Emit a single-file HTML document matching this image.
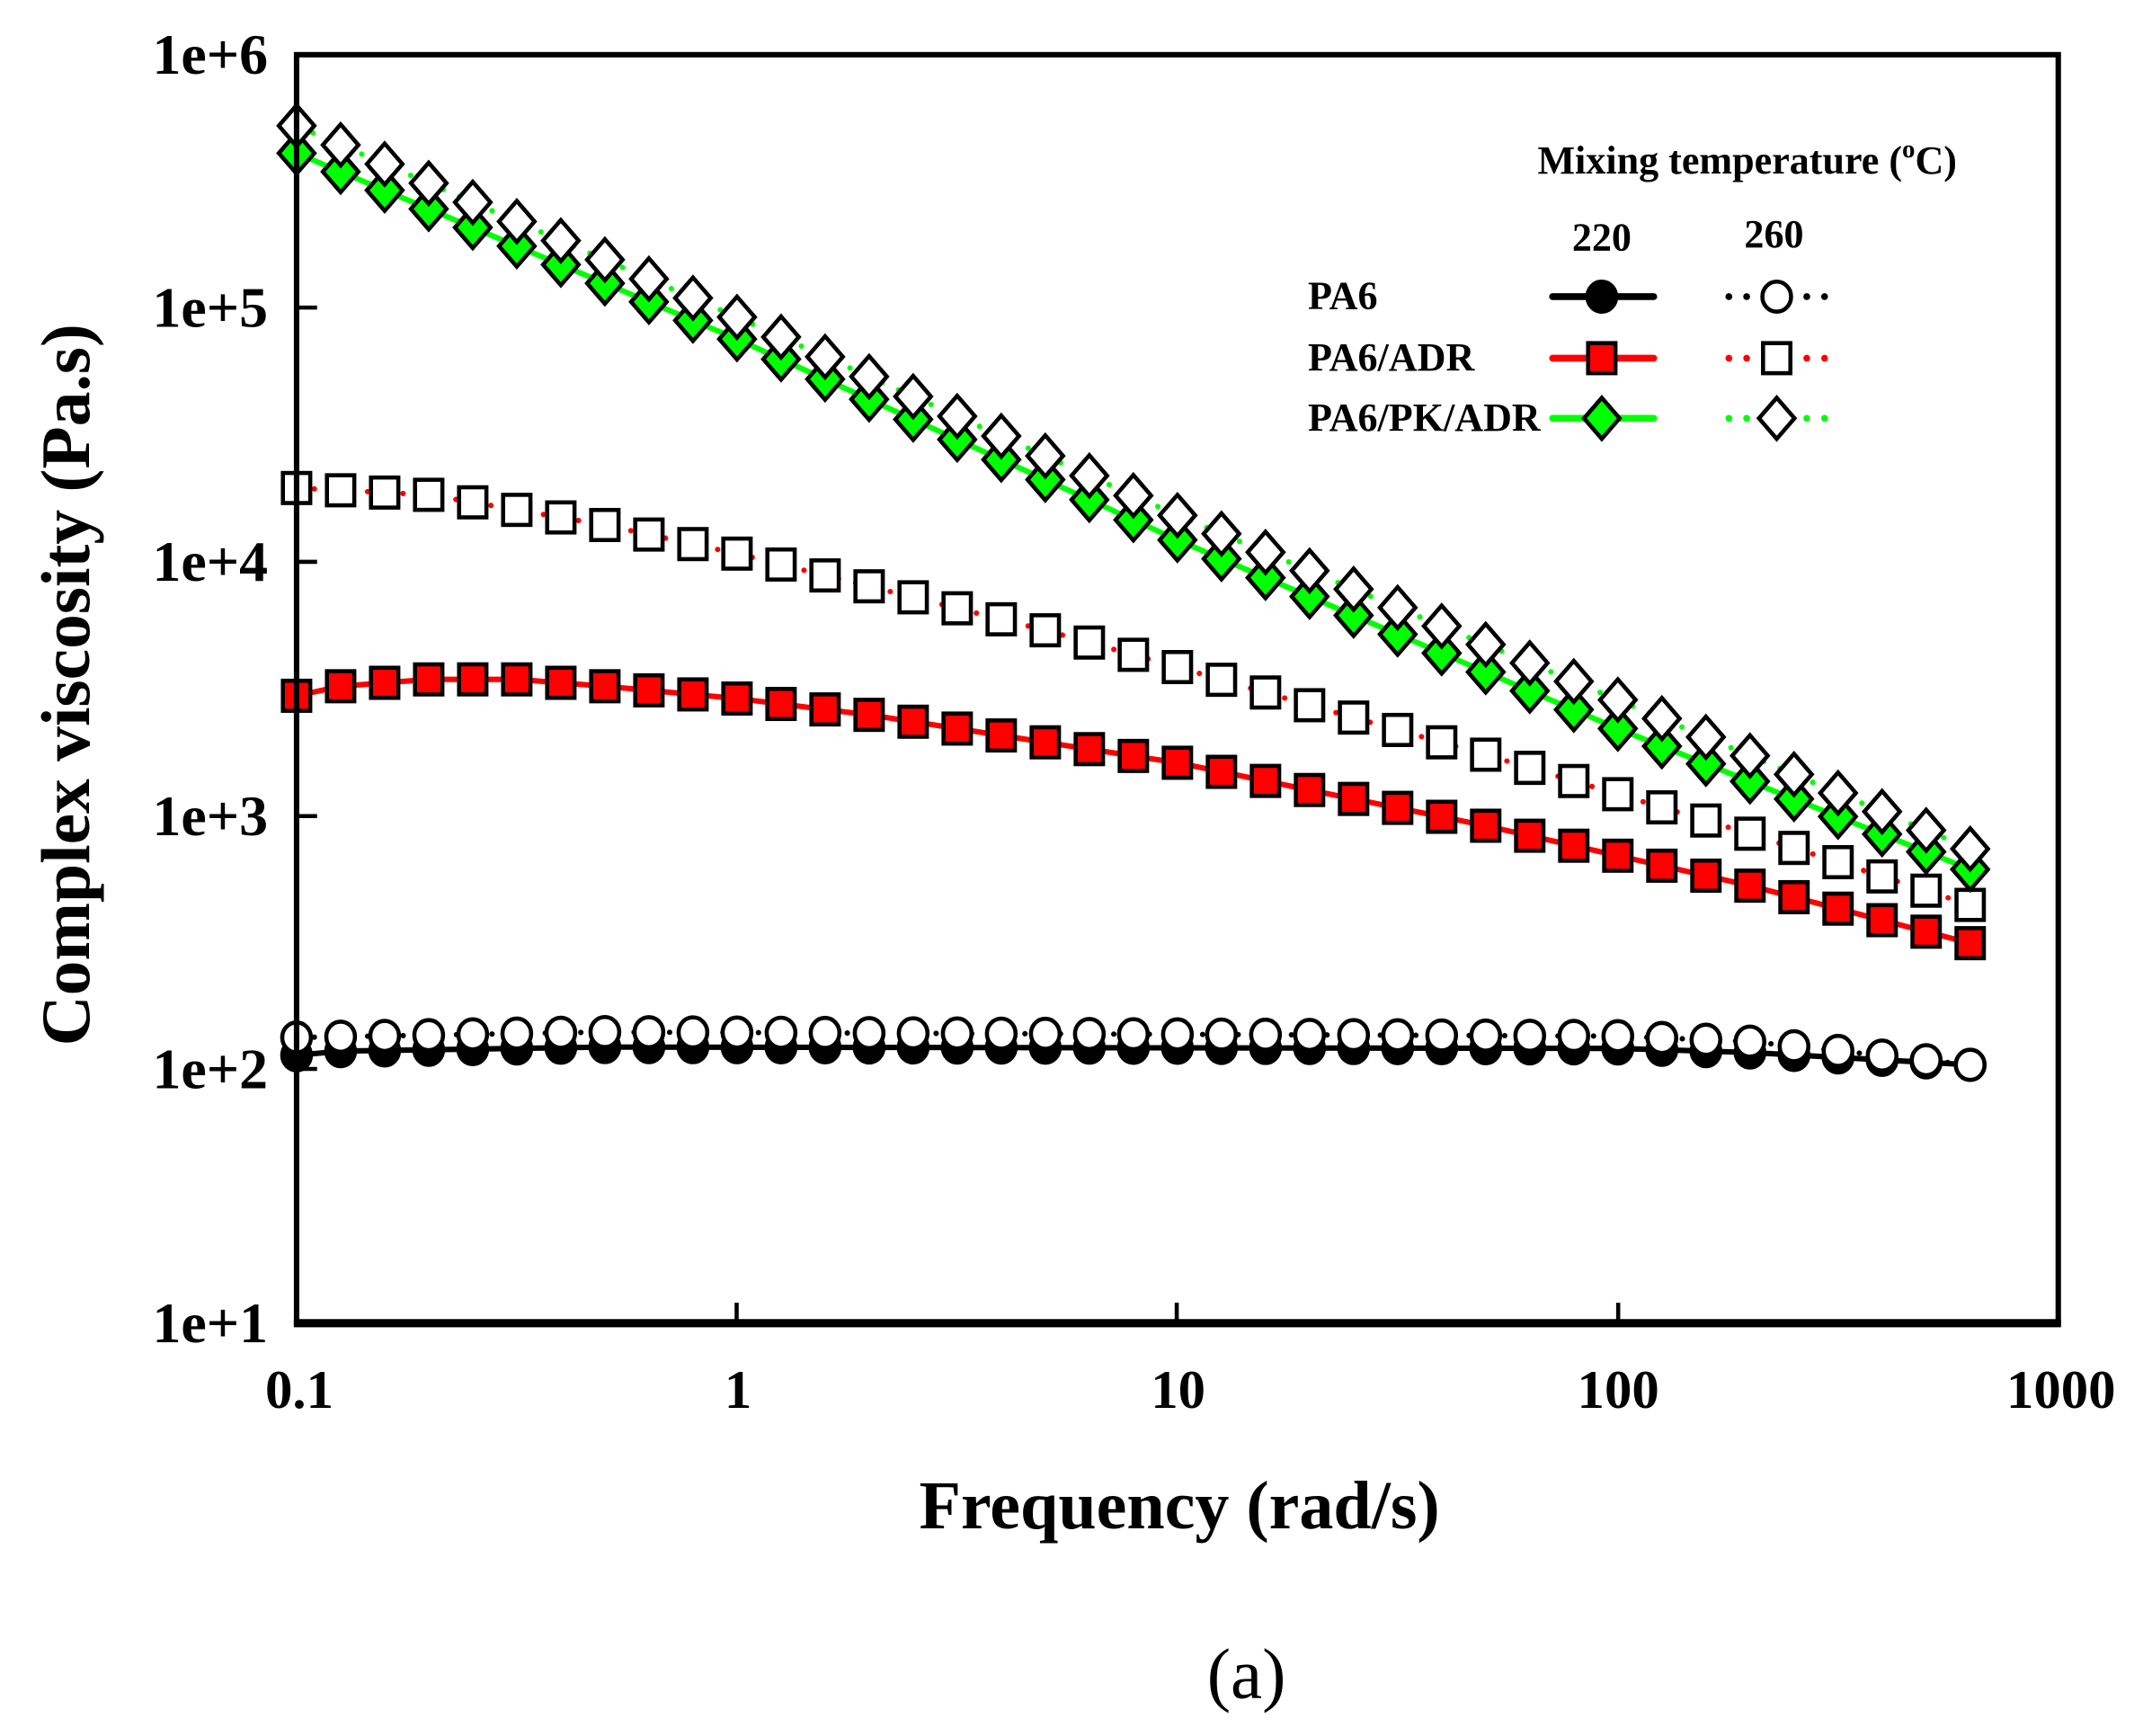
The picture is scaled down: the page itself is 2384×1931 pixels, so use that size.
<!DOCTYPE html>
<html><head><meta charset="utf-8"><style>
html,body{margin:0;padding:0;background:#fff;}
svg{display:block;}
text{font-family:"Liberation Serif",serif;fill:#000;}
</style></head><body>
<svg id="s" width="2384" height="1931" viewBox="0 0 1568 1270" xmlns="http://www.w3.org/2000/svg">
<rect width="1568" height="1270" fill="#fff"/>
<g id="data"></g>
<rect x="217" y="40" width="1289" height="928" fill="none" stroke="#000" stroke-width="4"/>
<line x1="215" y1="968" x2="1508" y2="968" stroke="#000" stroke-width="6"/>
<g stroke="#000" stroke-width="3">
<line x1="217" y1="225" x2="232" y2="225"/><line x1="217" y1="411" x2="232" y2="411"/>
<line x1="217" y1="597" x2="232" y2="597"/><line x1="217" y1="782" x2="232" y2="782"/>
<line x1="539" y1="968" x2="539" y2="953"/><line x1="861" y1="968" x2="861" y2="953"/><line x1="1184" y1="968" x2="1184" y2="953"/>
</g>
<g font-size="42" font-weight="bold" text-anchor="end">
<text x="196" y="54">1e+6</text><text x="196" y="239">1e+5</text><text x="196" y="425">1e+4</text>
<text x="196" y="611">1e+3</text><text x="196" y="796">1e+2</text><text x="196" y="982">1e+1</text>
</g>
<g font-size="40" font-weight="bold" text-anchor="middle">
<text x="219" y="1030">0.1</text><text x="540" y="1030">1</text><text x="862" y="1030">10</text>
<text x="1184" y="1030">100</text><text x="1508" y="1030">1000</text>
</g>
<text x="863" y="1118" font-size="50" font-weight="bold" text-anchor="middle">Frequency (rad/s)</text>
<text transform="translate(65,501) rotate(-90)" font-size="51" font-weight="bold" text-anchor="middle">Complex viscosity (Pa.s)</text>
<text x="912" y="1242" font-size="52" text-anchor="middle">(a)</text>
<g font-size="29" font-weight="bold">
<text x="1125" y="127">Mixing temperature (<tspan font-size="19" dy="-12">o</tspan><tspan dy="12">C)</tspan></text>
<text x="1172" y="183" text-anchor="middle">220</text>
<text x="1298" y="181" text-anchor="middle">260</text>
<text x="957" y="226">PA6</text>
<text x="957" y="271">PA6/ADR</text>
<text x="957" y="315">PA6/PK/ADR</text>
</g>
<g id="leg"></g>
</svg>
<script>
const NS="http://www.w3.org/2000/svg";
const X=f=>217+322.25*(Math.log10(f)+1);
function interp(a,f){const l=Math.log10(f);for(let i=0;i<a.length-1;i++){const l0=Math.log10(a[i][0]),l1=Math.log10(a[i+1][0]);if(l<=l1+1e-9){return a[i][1]+(a[i+1][1]-a[i][1])*(l-l0)/(l1-l0);}}return a[a.length-1][1];}
const series=[
 {k:'c',fill:'#000',line:'#000',dot:false,a:[[0.1,772],[0.126,769],[0.5,766],[100,767],[200,770],[631,779]]},
 {k:'c',fill:'#fff',line:'#000',dot:true,a:[[0.1,759],[0.5,755],[100,758],[200,762],[631,779]]},
 {k:'s',fill:'#f00',line:'#f00',dot:false,a:[[0.1,509],[0.126,502],[0.2,497],[0.316,497],[0.5,502],[1,511],[2,523],[5,543],[10,558],[20,578],[50,604],[100,626],[200,648],[631,690]]},
 {k:'s',fill:'#fff',line:'#f00',dot:true,a:[[0.1,357],[0.2,362],[0.5,384],[1,405],[2,429],[5,461],[10,488],[20,516],[50,552],[100,581],[200,610],[631,662]]},
 {k:'d',fill:'#0f0',line:'#0f0',dot:false,a:[[0.1,112],[1,248],[10,395],[100,533],[631,636]]},
 {k:'d',fill:'#fff',line:'#0f0',dot:true,a:[[0.1,92],[1,232],[10,377],[100,512],[631,621]]}
];
function mk(p,k,x,y,fill){let e;
 if(k==='c'){e=document.createElementNS(NS,'ellipse');e.setAttribute('cx',x);e.setAttribute('cy',y);e.setAttribute('rx',10.5);e.setAttribute('ry',11);}
 else if(k==='s'){e=document.createElementNS(NS,'rect');e.setAttribute('x',x-10);e.setAttribute('y',y-11);e.setAttribute('width',20);e.setAttribute('height',22);}
 else {e=document.createElementNS(NS,'polygon');e.setAttribute('points',`${x},${y-15} ${x+13},${y} ${x},${y+15} ${x-13},${y}`);}
 e.setAttribute('fill',fill);e.setAttribute('stroke','#000');e.setAttribute('stroke-width',3);p.appendChild(e);}
const g=document.getElementById('data');
for(const s of series){const pts=[];for(let i=0;i<=38;i++){const f=Math.pow(10,-1+i/10);pts.push([X(f),interp(s.a,f)]);}
 const pl=document.createElementNS(NS,'polyline');pl.setAttribute('points',pts.map(p=>p.join(',')).join(' '));pl.setAttribute('fill','none');pl.setAttribute('stroke',s.line);
 if(s.dot){pl.setAttribute('stroke-width',4);pl.setAttribute('stroke-dasharray','0 13');pl.setAttribute('stroke-linecap','round');}else{pl.setAttribute('stroke-width',4);}
 g.appendChild(pl);for(const p of pts)mk(g,s.k,p[0],p[1],s.fill);}
const L=document.getElementById('leg');
const rows=[[217,'c','#000','#000'],[262,'s','#f00','#f00'],[306,'d','#0f0','#0f0']];
for(const [y,k,fc,lc] of rows){
 const l=document.createElementNS(NS,'line');l.setAttribute('x1',1136);l.setAttribute('x2',1210);l.setAttribute('y1',y);l.setAttribute('y2',y);l.setAttribute('stroke',lc);l.setAttribute('stroke-width',5);l.setAttribute('stroke-linecap','round');L.appendChild(l);
 mk(L,k,1172,y,fc);
 for(const dx of [1265,1278,1322,1335]){const c=document.createElementNS(NS,'circle');c.setAttribute('cx',dx);c.setAttribute('cy',y);c.setAttribute('r',2.5);c.setAttribute('fill',lc);L.appendChild(c);}
 mk(L,k,1300,y,'#fff');}
</script>
</body></html>
